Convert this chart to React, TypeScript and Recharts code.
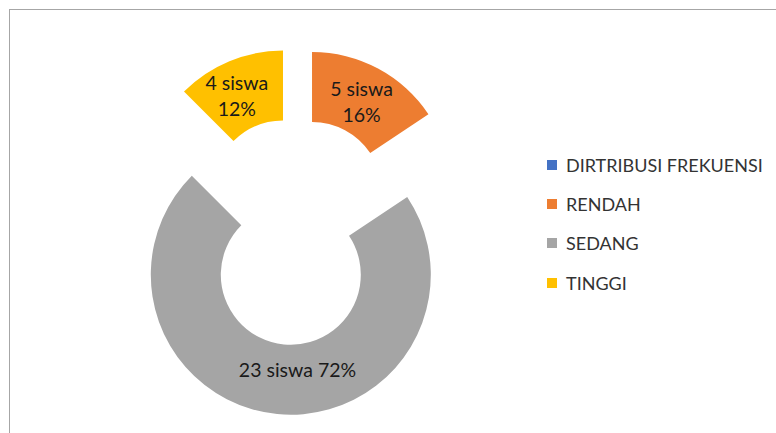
import React from 'react'
import { PieChart, Pie, Cell, Legend } from 'recharts'

const categories = ['DIRTRIBUSI FREKUENSI', 'RENDAH', 'SEDANG', 'TINGGI']
const counts = [0, 5, 23, 4]
const countLabels = ['', '5 siswa', '23 siswa', '4 siswa']
const percentLabels = ['', '16%', '72%', '12%']

const colors = ['#4472C4', '#ED7D31', '#A5A5A5', '#FFC000']

// layout
const WIDTH = 776
const HEIGHT = 433
const CX = 296
const CY = 222
const INNER = 70
const OUTER = 140
const explode = [0, 34, 53, 34]
const wrapLabel = [false, true, false, true]
const labelNudge = [
  [0, 0],
  [0, 2],
  [17, -10],
  [-6, 2]
]
const FONT = 'Lato, "Open Sans", sans-serif'

const tableData = categories.map((name, i) => ({ name, value: counts[i] }))

const total = counts.reduce((a, b) => a + b, 0)

// clockwise-from-top mid angle of each slice, used for exploding
const midAngles = counts.map((v, i) => {
  const before = counts.slice(0, i).reduce((a, b) => a + b, 0)
  return ((before + v / 2) / total) * 360
})

const RADIAN = Math.PI / 180

const centerOf = (i: number) => {
  const a = midAngles[i] * RADIAN
  return {
    cx: CX + explode[i] * Math.sin(a),
    cy: CY - explode[i] * Math.cos(a)
  }
}

const makeLabel = (owner: number) => (props: any) => {
  const { cx, cy, midAngle, innerRadius, outerRadius, index } = props
  if (index !== owner) return null
  const r = (innerRadius + outerRadius) / 2
  const x = cx + r * Math.cos(-midAngle * RADIAN) + labelNudge[owner][0]
  const y = cy + r * Math.sin(-midAngle * RADIAN) + labelNudge[owner][1]
  const style = { fontFamily: FONT, fontSize: 19.5 }
  if (wrapLabel[owner]) {
    return (
      <text x={x} y={y} textAnchor="middle" fill="#1a1a1a" style={style}>
        <tspan x={x} dy={-13} dominantBaseline="central">
          {countLabels[owner]}
        </tspan>
        <tspan x={x} dy={26} dominantBaseline="central">
          {percentLabels[owner]}
        </tspan>
      </text>
    )
  }
  return (
    <text
      x={x}
      y={y}
      textAnchor="middle"
      dominantBaseline="central"
      fill="#1a1a1a"
      style={style}
    >
      {`${countLabels[owner]} ${percentLabels[owner]}`}
    </text>
  )
}

const renderLegend = () => (
  <div style={{ fontFamily: FONT }}>
    {categories.map((name, i) => (
      <div
        key={name}
        style={{
          display: 'flex',
          alignItems: 'center',
          height: 39.3,
          fontSize: 18,
          color: '#333'
        }}
      >
        <span
          style={{
            display: 'inline-block',
            width: 10,
            height: 10,
            background: colors[i],
            marginRight: 9
          }}
        />
        {name}
      </div>
    ))}
  </div>
)

export default function App() {
  return (
    <div
      style={{
        position: 'absolute',
        left: 0,
        top: 0,
        width: WIDTH,
        height: HEIGHT,
        overflow: 'hidden',
        background: '#fff'
      }}
    >
      <div
        style={{
          position: 'absolute',
          left: 9,
          top: 9,
          width: 820,
          height: 520,
          border: '1px solid #a6a6a6'
        }}
      />
      <PieChart
        width={WIDTH}
        height={HEIGHT}
        margin={{ top: 0, right: 0, bottom: 0, left: 0 }}
      >
        {counts.map((v, owner) => {
          if (v <= 0) return null
          const c = centerOf(owner)
          return (
            <Pie
              key={owner}
              data={tableData}
              dataKey="value"
              nameKey="name"
              cx={c.cx}
              cy={c.cy}
              innerRadius={INNER}
              outerRadius={OUTER}
              startAngle={90}
              endAngle={-270}
              stroke="none"
              labelLine={false}
              label={makeLabel(owner)}
              isAnimationActive={false}
            >
              {tableData.map((entry, j) => (
                <Cell
                  key={`cell-${j}`}
                  fill={j === owner ? colors[j] : 'transparent'}
                />
              ))}
            </Pie>
          )
        })}
        <Legend
          content={renderLegend}
          layout="vertical"
          align="right"
          verticalAlign="top"
          wrapperStyle={{ position: 'absolute', left: 547, top: 145, width: 229 }}
        />
      </PieChart>
    </div>
  )
}
